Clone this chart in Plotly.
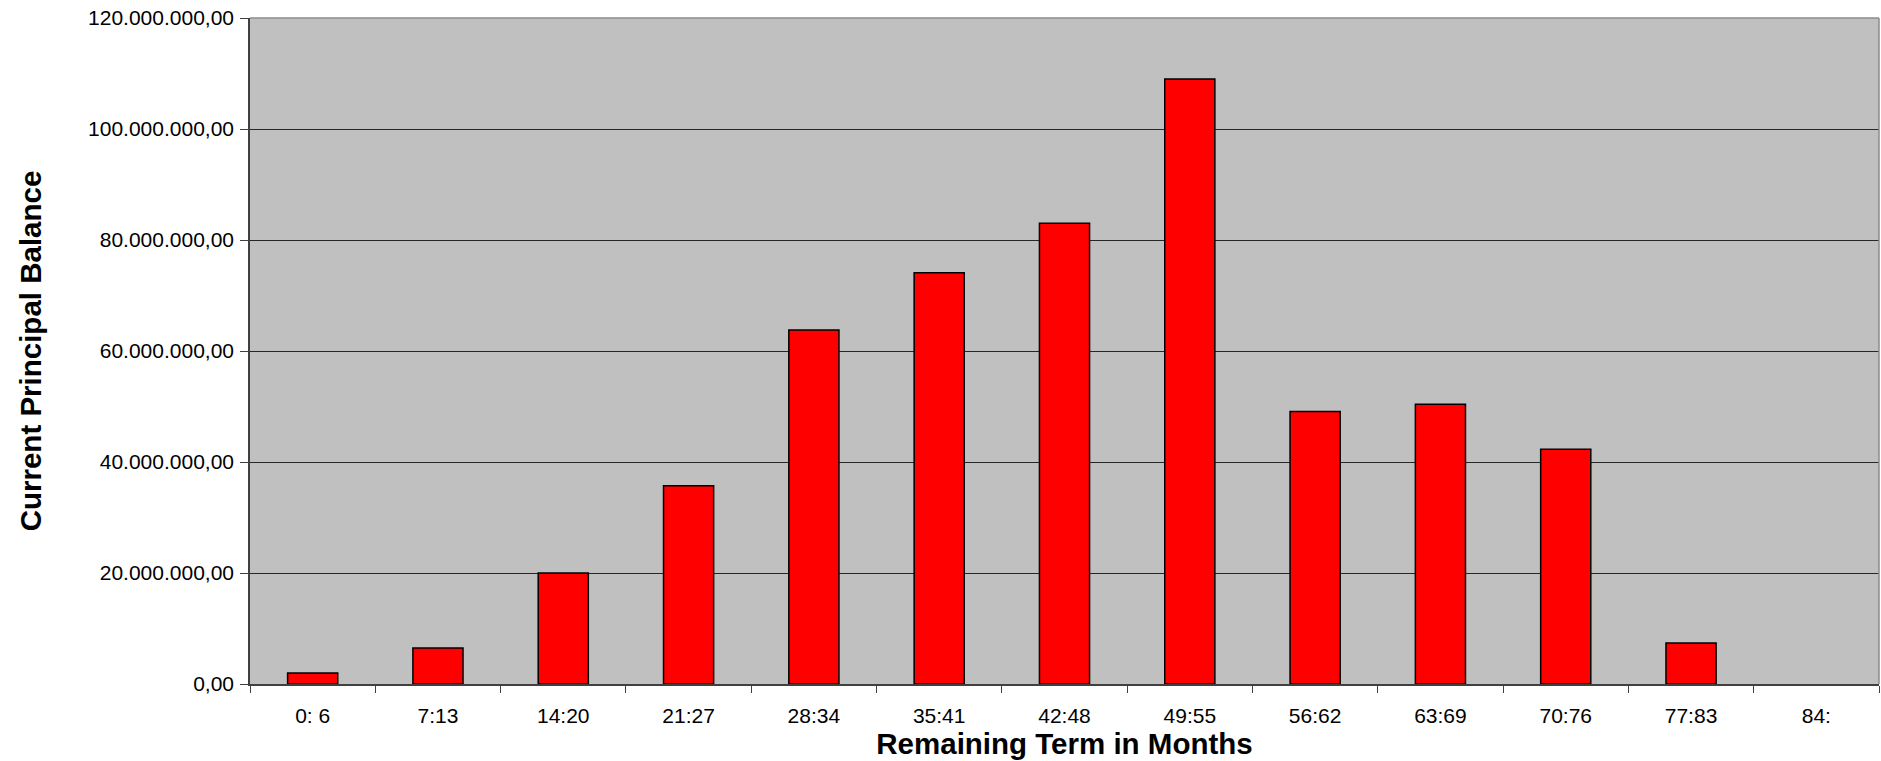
import plotly.graph_objects as go

# Remaining term buckets (months) and current principal balance per bucket
term_buckets = ["0: 6", "7:13", "14:20", "21:27", "28:34", "35:41", "42:48",
                "49:55", "56:62", "63:69", "70:76", "77:83", "84:"]
principal_balance = [2.0e6, 6.5e6, 20.0e6, 35.7e6, 63.8e6, 74.1e6, 83.0e6,
                     109.0e6, 49.1e6, 50.4e6, 42.3e6, 7.4e6, 0.0]
y_tick_values = [0, 20e6, 40e6, 60e6, 80e6, 100e6, 120e6]

FONT = "Liberation Sans, Arial, sans-serif"

# Empty buckets get no outline so no stray line sits on the axis
outline_widths = [1.5 if v > 0 else 0 for v in principal_balance]

fig = go.Figure(
    go.Bar(
        x=term_buckets,
        y=principal_balance,
        marker=dict(color="#ff0000", line=dict(color="#000000", width=outline_widths)),
        hoverinfo="x+y",
    )
)

fig.update_layout(
    width=1881,
    height=761,
    margin=dict(l=250, r=2, t=18, b=77),
    paper_bgcolor="#ffffff",
    plot_bgcolor="#c0c0c0",
    bargap=0.6,
    separators=",.",
    showlegend=False,
    font=dict(family=FONT, size=21, color="#000000"),
)

fig.update_xaxes(
    type="category",
    tickson="boundaries",
    ticks="outside",
    ticklen=7,
    tickcolor="#404040",
    showline=True,
    linecolor="#404040",
    linewidth=1.5,
    showgrid=False,
    tickfont=dict(size=21),
    ticklabelstandoff=12,
    title=dict(text="<b>Remaining Term in Months</b>", font=dict(size=29.5), standoff=2),
    range=[-0.5, len(term_buckets) - 0.5],
)

fig.update_yaxes(
    range=[0, 120e6],
    tickvals=y_tick_values,
    tickformat=",.2f",
    ticks="outside",
    ticklen=8,
    tickcolor="#404040",
    showline=True,
    linecolor="#404040",
    linewidth=1.5,
    showgrid=True,
    gridcolor="#262626",
    gridwidth=1,
    zeroline=False,
    tickfont=dict(size=21),
    ticklabelstandoff=2,
    title=dict(text="<b>Current Principal Balance</b>", font=dict(size=29.5), standoff=38),
)

# Grey frame on the top and right edges of the plot area
fig.add_shape(type="line", xref="paper", yref="paper", x0=0, x1=1, y0=1, y1=1,
              line=dict(color="#8c8c8c", width=1.5))
fig.add_shape(type="line", xref="paper", yref="paper", x0=1, x1=1, y0=0, y1=1,
              line=dict(color="#8c8c8c", width=1.5))

fig.write_html("out.html")
